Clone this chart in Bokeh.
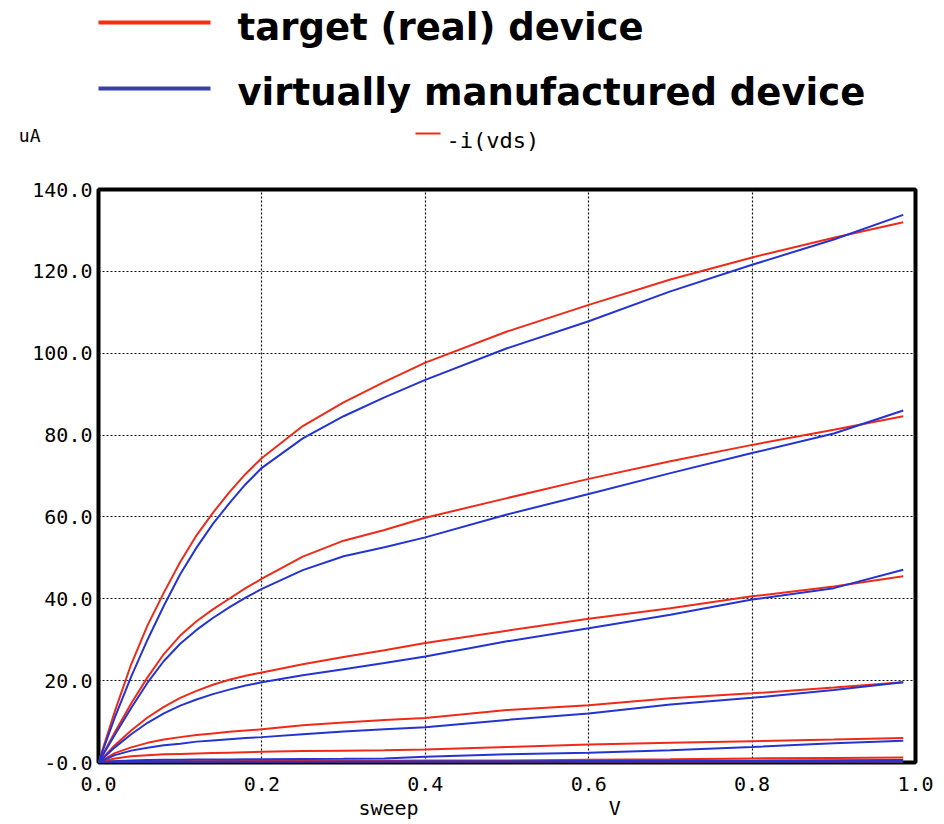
from bokeh.plotting import figure
from bokeh.layouts import column
from bokeh.models import (Range1d, FixedTicker, PrintfTickFormatter, LinearAxis)
from bokeh.core.properties import value
from bokeh.embed import file_html
from bokeh.resources import INLINE

# ---------------- data ----------------
sweep_v = [0, 0.02, 0.04, 0.06, 0.08, 0.10, 0.12, 0.14, 0.16, 0.18, 0.20,
           0.25, 0.30, 0.35, 0.40, 0.50, 0.60, 0.70, 0.80, 0.90, 0.985]

# target (real) device, -i(vds) in uA, one list per gate bias
target_1 = [0, 12.5, 24.0, 33.5, 41.5, 49.0, 55.5, 61.0, 66.0, 70.5, 74.4,
            82.2, 88.0, 93.0, 97.7, 105.3, 111.8, 118.0, 123.4, 128.2, 132.0]
target_2 = [0, 7.4, 14.4, 20.8, 26.5, 31.0, 34.5, 37.4, 40.0, 42.6, 44.9,
            50.3, 54.2, 56.8, 59.8, 64.6, 69.3, 73.6, 77.6, 81.3, 84.6]
target_3 = [0, 4.2, 7.8, 11.0, 13.6, 15.8, 17.5, 19.0, 20.2, 21.2, 22.0,
            24.0, 25.8, 27.4, 29.2, 32.2, 35.1, 37.7, 40.6, 43.0, 45.5]
target_4 = [0, 2.3, 3.7, 4.8, 5.6, 6.2, 6.7, 7.1, 7.5, 7.8, 8.1,
            9.1, 9.8, 10.4, 10.9, 12.8, 14.0, 15.7, 16.9, 18.3, 19.6]
target_5 = [0, 1.0, 1.5, 1.8, 2.0, 2.1, 2.2, 2.3, 2.4, 2.5, 2.6,
            2.8, 2.9, 3.0, 3.2, 3.8, 4.4, 4.8, 5.2, 5.6, 6.0]
target_6 = [0, 0.1, 0.15, 0.2, 0.25, 0.3, 0.3, 0.3, 0.35, 0.35, 0.4,
            0.4, 0.45, 0.45, 0.5, 0.5, 0.7, 0.8, 1.0, 1.1, 1.2]
target_7 = [0, 0.05, 0.05, 0.05, 0.05, 0.05, 0.05, 0.05, 0.05, 0.05, 0.05,
            0.05, 0.05, 0.05, 0.05, 0.05, 0.05, 0.05, 0.05, 0.05, 0.05]

# virtually manufactured device
virtual_1 = [0, 11.0, 21.0, 30.0, 38.3, 46.0, 52.5, 58.3, 63.3, 68.0, 72.0,
             79.2, 84.6, 89.2, 93.5, 101.2, 107.8, 115.1, 121.6, 127.8, 133.8]
virtual_2 = [0, 6.8, 13.3, 19.5, 24.8, 29.0, 32.4, 35.3, 37.9, 40.3, 42.4,
             47.0, 50.4, 52.6, 55.0, 60.6, 65.6, 70.7, 75.6, 80.4, 86.0]
virtual_3 = [0, 3.7, 6.9, 9.7, 12.0, 13.9, 15.4, 16.7, 17.8, 18.8, 19.6,
             21.3, 22.8, 24.3, 25.9, 29.6, 32.8, 36.1, 39.8, 42.6, 47.1]
virtual_4 = [0, 1.8, 2.9, 3.6, 4.2, 4.6, 5.1, 5.4, 5.7, 6.0, 6.2,
             6.9, 7.6, 8.1, 8.6, 10.4, 12.0, 14.2, 15.8, 17.7, 19.6]
virtual_5 = [0, 0.3, 0.5, 0.6, 0.65, 0.7, 0.72, 0.74, 0.76, 0.78, 0.8,
             0.85, 0.9, 1.0, 1.4, 2.0, 2.4, 3.0, 3.8, 4.7, 5.3]
virtual_6 = [0, 0.05, 0.08, 0.1, 0.12, 0.15, 0.15, 0.15, 0.2, 0.2, 0.2,
             0.2, 0.25, 0.25, 0.3, 0.3, 0.35, 0.4, 0.45, 0.55, 0.6]
virtual_7 = [0] * 21

target_series = [target_1, target_2, target_3, target_4, target_5, target_6, target_7]
virtual_series = [virtual_1, virtual_2, virtual_3, virtual_4, virtual_5, virtual_6, virtual_7]

x_ticks = [0.0, 0.2, 0.4, 0.6, 0.8, 1.0]
y_ticks = [0, 20, 40, 60, 80, 100, 120, 140]

legend_labels = ["target (real) device", "virtually manufactured device"]
trace_name = "-i(vds)"
y_unit = "uA"
x_label = "sweep"
x_unit = "V"
x_label_pos = [0.355, 0.632]   # where the two bottom words sit along the x axis

RED = "#f02a18"
BLUE = "#2434d2"
LEG_RED = "#ff2a12"
LEG_BLUE = "#3b3fae"
MONO = "DejaVu Sans Mono"

W, H = 944, 824
LEFT, RIGHT = 98, 29
TOP_H = 170                 # height of the header strip (page pixels)
MAIN_H = H - TOP_H          # main plot fills the rest
FRAME_TOP, FRAME_BOTTOM = 189, 762


def style_axis(ax, standoff, size="20px"):
    ax.axis_line_color = None
    ax.major_tick_line_color = None
    ax.minor_tick_line_color = None
    ax.major_tick_out = 0
    ax.major_tick_in = 0
    ax.major_label_text_font = MONO
    ax.major_label_text_font_size = size
    ax.major_label_text_color = "black"
    ax.major_label_standoff = standoff


# ---------------- header strip (its frame is aligned with the main frame) ----------------
head = figure(width=W, height=TOP_H, x_range=Range1d(LEFT, W - RIGHT),
              y_range=Range1d(TOP_H, 0), x_axis_location=None,
              y_axis_location="left", toolbar_location=None,
              output_backend="svg", min_border_left=LEFT,
              min_border_right=RIGHT, min_border_top=0, min_border_bottom=0)
head.outline_line_color = None
head.grid.visible = False
head.background_fill_color = "white"
head.border_fill_color = "white"
# "uA" unit shown as the only label of the header's y axis
head.yaxis.ticker = FixedTicker(ticks=[134.5])
head.yaxis.major_label_overrides = {134.5: y_unit}
style_axis(head.yaxis[0], 58, "18px")

head.line([85, 210], [22, 22], line_color=LEG_RED, line_width=4)
head.line([85, 210], [88, 88], line_color=LEG_BLUE, line_width=4)
head.text(x=[237, 237], y=[27, 92], text=legend_labels,
          text_font=value("DejaVu Sans"), text_font_style="bold",
          text_font_size="37px", text_color="black",
          text_baseline="alphabetic", text_align="left")
head.line([415, 440], [133, 133], line_color=RED, line_width=2)
head.text(x=[446], y=[140], text=[trace_name], text_font=value(MONO),
          text_font_size="22px", text_color="black",
          text_baseline="alphabetic", text_align="left")

# ---------------- main plot ----------------
p = figure(width=W, height=MAIN_H, x_range=Range1d(0, 1), y_range=Range1d(0, 140),
           toolbar_location=None, output_backend="svg",
           min_border_left=LEFT, min_border_right=RIGHT,
           min_border_top=FRAME_TOP - TOP_H,
           min_border_bottom=H - FRAME_BOTTOM)
p.background_fill_color = "white"
p.border_fill_color = "white"
p.outline_line_color = "black"
p.outline_line_width = 4

style_axis(p.xaxis[0], 14)
style_axis(p.yaxis[0], 6)
p.xaxis.formatter = PrintfTickFormatter(format="%.1f")
p.yaxis.formatter = PrintfTickFormatter(format="%.1f")
p.xaxis.ticker = FixedTicker(ticks=x_ticks)
p.yaxis.ticker = FixedTicker(ticks=y_ticks)
p.yaxis.major_label_overrides = {0: "-0.0"}

# second, label-only x axis carrying "sweep" and "V"
name_axis = LinearAxis(ticker=FixedTicker(ticks=x_label_pos),
                       major_label_overrides={x_label_pos[0]: x_label,
                                              x_label_pos[1]: x_unit})
style_axis(name_axis, 2)
p.add_layout(name_axis, "below")

p.xgrid.ticker = FixedTicker(ticks=x_ticks)
p.ygrid.ticker = FixedTicker(ticks=y_ticks)
for g in (p.xgrid[0], p.ygrid[0]):
    g.grid_line_color = "#111111"
    g.grid_line_dash = "2 2"
    g.grid_line_width = 1.2
    g.grid_line_alpha = 1.0

for ys in target_series:
    p.line(sweep_v, ys, line_color=RED, line_width=2)
for ys in virtual_series:
    p.line(sweep_v, ys, line_color=BLUE, line_width=2)

layout = column(head, p, spacing=0)
open("out.html", "w").write(file_html(layout, INLINE))
